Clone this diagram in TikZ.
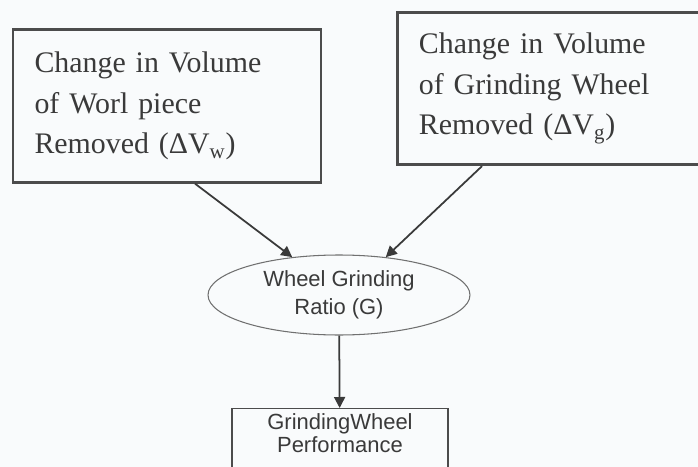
\documentclass[tikz,border=0pt]{standalone}
\usepackage{fontspec}
\setmainfont{Liberation Serif}
\setsansfont{Liberation Sans}
\usetikzlibrary{arrows.meta,shapes.geometric,calc}
\definecolor{ink}{HTML}{3A3A3A}
\definecolor{edge}{HTML}{4C4C4C}
\definecolor{paper}{HTML}{F9FBFC}
\tikzset{
  volbox/.style={draw=edge, line width=1.6pt, align=left, inner xsep=0.43cm, text width=5.3cm, minimum height=3.05cm, text=ink, font=\fontsize{17}{23}\selectfont},
  ratio/.style={ellipse, draw=edge!80, line width=0.6pt, inner sep=0pt, minimum width=5.24cm, minimum height=1.6cm, align=center, text=ink, font=\sffamily\fontsize{12.5}{16}\selectfont},
  perfbox/.style={draw=edge, line width=0.8pt, align=center, minimum width=4.32cm, inner ysep=3pt, text depth=1.4cm, text=ink, font=\sffamily\fontsize{12.5}{13}\selectfont},
  arrow/.style={-{Triangle[length=2.2mm,width=2.2mm]}, line width=1pt, draw=ink}
}
\begin{document}
\begin{tikzpicture}[x=0.02cm, y=-0.02cm]
  \clip (0,0) rectangle (698,467);
  \fill[paper] (0,0) rectangle (698,467);

  \node[volbox] (wp) at (167,106) {Change in Volume\\of Worl piece\\Removed (ΔV\textsubscript{w})};
  \node[volbox, anchor=west, text width=5.3cm] (gw) at (396,88.5) {Change in Volume\\of Grinding Wheel\\Removed (ΔV\textsubscript{g})};

  \node[ratio] (g) at (339,295) {Wheel Grinding\\Ratio (G)};

  \node[perfbox, anchor=north] (perf) at (340,408) {GrindingWheel\\Performance};

  \draw[arrow] ($(wp.south)+(28,0)$) -- (g.141);
  \draw[arrow] ($(gw.south west)+(86,0)$) -- (g.39);
  \draw[arrow] (g) -- (perf);
\end{tikzpicture}
\end{document}
